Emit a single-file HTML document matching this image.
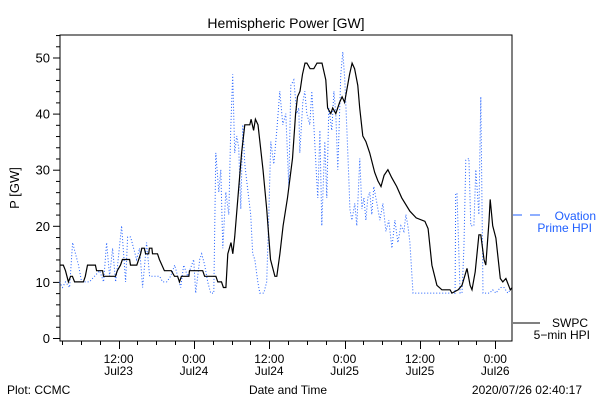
<!DOCTYPE html>
<html><head><meta charset="utf-8"><style>
body{margin:0;background:#fff}
svg{display:block;font-family:"Liberation Sans","DejaVu Sans",sans-serif}
</style></head><body>
<svg id="chart" width="600" height="400" viewBox="0 0 600 400">
<rect width="600" height="400" fill="#fff"/>
<text x="286" y="28" font-size="14" text-anchor="middle">Hemispheric Power [GW]</text>
<rect x="60" y="35" width="452" height="306" fill="none" stroke="#000" stroke-width="1"/>
<g id="yaxis"></g>
<g id="xaxis"></g>
<text transform="translate(19,188) rotate(-90)" font-size="13" text-anchor="middle">P [GW]</text>
<text x="288" y="394" font-size="12" text-anchor="middle">Date and Time</text>
<text x="7" y="394" font-size="12">Plot: CCMC</text>
<text x="582" y="394" font-size="12" text-anchor="end">2020/07/26 02:40:17</text>
<g id="series"></g>
<g>
<line x1="513" y1="215" x2="522" y2="215" stroke="#1f5fff"/>
<line x1="530" y1="215" x2="540" y2="215" stroke="#1f5fff"/>
<text x="596" y="220" font-size="12" fill="#1f5fff" text-anchor="end">Ovation</text>
<text x="592" y="232" font-size="12" fill="#1f5fff" text-anchor="end">Prime HPI</text>
</g>
<g>
<line x1="513" y1="323" x2="540" y2="323" stroke="#000"/>
<text x="588" y="327" font-size="12" text-anchor="end">SWPC</text>
<text x="590" y="339" font-size="12" text-anchor="end">5−min HPI</text>
</g>
</svg>
<script>
// hours since 2020-07-23 00:00
const swpcHours=[2.6,3.2,3.55,4.0,4.35,4.65,5.0,6.4,6.7,7.05,8.3,8.5,9.45,9.6,11.5,11.8,12.3,12.6,13.75,13.9,14.9,15.2,15.5,15.7,16.1,16.3,16.8,16.9,17.3,17.4,18.2,18.5,19.3,20.4,20.9,21.4,21.7,22.0,23.2,23.3,25.4,25.7,27.5,27.8,28.4,28.7,29.1,29.4,29.9,30.2,30.5,31.0,31.6,32.1,32.9,33.1,33.5,33.8,34.2,35.0,35.6,36.2,36.9,37.2,37.7,38.2,38.9,39.7,40.2,40.5,40.9,41.3,41.7,42.0,42.5,43.1,43.6,44.4,45.0,45.3,45.8,46.1,46.6,47.2,47.6,48.0,48.8,49.2,49.6,50.1,50.4,50.9,51.4,52.0,52.8,53.3,53.8,54.3,54.9,55.5,56.3,57.1,58.4,59.4,60.8,61.3,61.9,62.7,63.5,64.8,65.1,66.1,66.7,67.5,68.0,68.3,68.8,69.4,69.7,70.2,70.5,71.0,71.2,71.6,72.1,72.8,73.2,73.7,74.4,74.7];
const swpcValues=[13,13,12,10,11,11,10,10,11,13,13,12,12,11,11,12,13,14,14,13,13,14,15,16,16,15,15,16,16,15,15,14,12,12,11,11,10,11,11,12,12,11,11,10,10,9,9,15,17,15,18,25,33,38,38,39,37,39,38,30,23,14,11,11,15,20,25,32,40,43,44,47,49,49,48,48,49,49,46,41,40,41,40,42,43,42,47,49,48,45,41,36,35,33,29.5,28,27,29,30,28.6,27,25,22.6,21.4,20.8,19.5,13,9.4,8.6,8.6,8,8.6,9.4,12.4,9.4,8.6,11.8,18.4,18.4,14,13,20.8,24.7,20,17.8,10.6,10,10.6,8.6,9];
const ovationHours=[2.59,3.07,3.55,4.19,4.67,5.14,5.62,6.10,6.58,7.37,8.17,8.97,9.61,10.09,10.56,11.04,11.52,11.84,12.48,13.11,13.43,13.91,14.39,14.87,15.35,15.83,16.46,16.94,17.74,18.54,19.02,19.66,20.29,20.93,21.41,21.89,22.37,23.0,23.96,24.28,24.92,25.24,25.72,26.2,26.68,27.16,27.48,27.96,28.28,28.6,29.08,29.55,29.86,30.18,30.5,30.82,31.14,31.46,31.78,32.1,32.41,33.05,33.37,33.69,34.17,34.49,35.13,35.6,35.92,36.24,36.72,37.2,37.68,38.16,38.63,39.11,39.43,39.91,40.39,40.71,40.87,41.34,41.66,41.98,42.46,42.78,43.1,43.58,43.74,44.06,44.37,44.85,45.17,45.49,45.97,46.29,46.6,46.92,47.4,47.72,48.04,48.36,48.68,48.84,49.16,49.63,49.95,50.43,50.75,51.07,51.39,51.7,52.02,52.34,52.66,53.14,53.62,54.1,54.58,55.05,55.53,56.01,56.49,56.97,57.45,57.77,58.09,58.41,58.89,60.0,61.6,63.2,64.8,65.6,65.7,65.9,66.4,66.7,67.0,67.3,67.8,68.1,68.6,68.9,69.4,69.7,70.05,70.5,71.1,71.6,72.1,72.8,73.4,74.0,74.7];
const ovationValues=[10,9,10,9,17,15,13,10,10,10,11,12,10,17,11,16,10,13,20,10,18,18,16,14,16,9,17,11,11,11,10,10,11,13,11,9,13,11,14,8,14,15,13,10,8,8,33,26,30,16,26,22,37,47,33,36,34,23,38,31,28,22,15,14,10,8,8,10,22,35,31,37,44,38,40,27,45,46,40,41,33,42,44,40,38,44,38,28,25,37,20,35,25,41,37,44,40,30,47,51,46,37,28,23,21,24,20,32,23,25,21,25,26,22,27,24,21,24,19,21,16,21,17,20,19,22,20,17,8,8,8,8,8,8,25.8,25.8,8,8,16,31.7,32,20,20,30,22,43,8,8,8,8.6,8,9,9,8,9];
const yTicks=[0,10,20,30,40,50];
const xTickHours=[12,24,36,48,60,72];
const xTickLabels1=["12:00","0:00","12:00","0:00","12:00","0:00"];
const xTickLabels2=["Jul23","Jul24","Jul24","Jul25","Jul25","Jul26"];

const NS="http://www.w3.org/2000/svg";
const X0=60,X1=512,H0=2.667,H1=74.667;
const Y0=338,PXPER=5.61;
function xs(h){return X0+(h-H0)*(X1-X0)/(H1-H0);}
function ys(v){return Y0-v*PXPER;}
function mk(tag,attrs,parent){const e=document.createElementNS(NS,tag);for(const k in attrs)e.setAttribute(k,attrs[k]);parent.appendChild(e);return e;}

const ya=document.getElementById('yaxis');
for(let v=0;v<=54;v+=2){
  const major=v%10===0;
  const t=mk('line',{x1:X0-(major?7:4),x2:X0,y1:ys(v)+0.5,y2:ys(v)+0.5,stroke:'#000'},ya);
  
  
}
yTicks.forEach(v=>{
  const t=mk('text',{x:50,y:ys(v)+5,'font-size':13,'text-anchor':'end'},ya);
  t.textContent=v;
  
  
});
const xa=document.getElementById('xaxis');
for(let h=3;h<=74;h+=3){
  const major=h%12===0;
  const t=mk('line',{x1:Math.round(xs(h))+0.5,x2:Math.round(xs(h))+0.5,y1:341,y2:major?349:345,stroke:'#000'},xa);
  
  
}
xTickHours.forEach((h,i)=>{
  const a=mk('text',{x:xs(h),y:363,'font-size':12,'text-anchor':'middle'},xa);
  a.textContent=xTickLabels1[i];
  
  
  const b=mk('text',{x:xs(h),y:375,'font-size':12,'text-anchor':'middle'},xa);
  b.textContent=xTickLabels2[i];
  
  
});
const sg=document.getElementById('series');
const op=mk('polyline',{points:ovationHours.map((h,i)=>xs(h).toFixed(1)+','+ys(ovationValues[i]).toFixed(1)).join(' '),fill:'none',stroke:'#1f5fff','stroke-width':1,'stroke-dasharray':'1,2'},sg);


const sp=mk('polyline',{points:swpcHours.map((h,i)=>xs(h).toFixed(1)+','+ys(swpcValues[i]).toFixed(1)).join(' '),fill:'none',stroke:'#000','stroke-width':1.2},sg);


</script>
</body></html>
